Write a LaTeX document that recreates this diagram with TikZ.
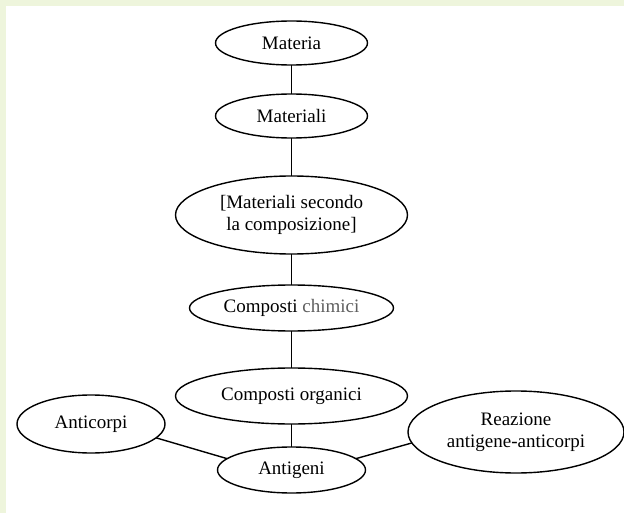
\documentclass[tikz,border=0pt]{standalone}
\usepackage{fontspec}
\setmainfont{Liberation Serif}
\usetikzlibrary{shapes.geometric}
\definecolor{pagegreen}{RGB}{238,245,220}
\definecolor{softgray}{RGB}{95,95,95}
\tikzset{
  concept/.style={draw=black, line width=1.4pt, ellipse, inner sep=0pt, outer sep=0pt,
    align=center, font=\fontsize{19}{22}\selectfont},
  link/.style={draw=black, line width=1.4pt}
}
\begin{document}
\begin{tikzpicture}[x=1pt,y=-1pt]
  % page frame: green band on top and left, white sheet
  \fill[pagegreen] (0,0) rectangle (624,513);
  \fill[white] (6,6) rectangle (624,513);
  \useasboundingbox (0,0) rectangle (624,513);

  % concepts
  \node[concept, minimum width=152pt, minimum height=44pt] (materia) at (291.5,43) {Materia};
  \node[concept, minimum width=152pt, minimum height=44pt] (materiali) at (291.5,116) {Materiali};
  \node[concept, minimum width=232pt, minimum height=78pt] (composizione) at (291.5,215)
    {[Materiali secondo\\la composizione]};
  \node[concept, minimum width=204pt, minimum height=46pt] (chimici) at (291.5,308)
    {Composti \textcolor{softgray}{chimici}};
  \node[concept, minimum width=232pt, minimum height=56pt] (organici) at (291.5,396) {Composti organici};
  \node[concept, minimum width=148pt, minimum height=58pt] (anticorpi) at (91,424) {Anticorpi};
  \node[concept, minimum width=148pt, minimum height=46pt] (antigeni) at (291.5,470) {Antigeni};
  \node[concept, minimum width=216pt, minimum height=82pt] (reazione) at (516,432)
    {Reazione\\antigene-anticorpi};

  % connectors
  \draw[link] (materia) -- (materiali);
  \draw[link] (materiali) -- (composizione);
  \draw[link] (composizione) -- (chimici);
  \draw[link] (chimici) -- (organici);
  \draw[link] (organici) -- (antigeni);
  \draw[link] (anticorpi.-12) -- (antigeni.170);
  \draw[link] (antigeni.10) -- (reazione.186);
\end{tikzpicture}
\end{document}
